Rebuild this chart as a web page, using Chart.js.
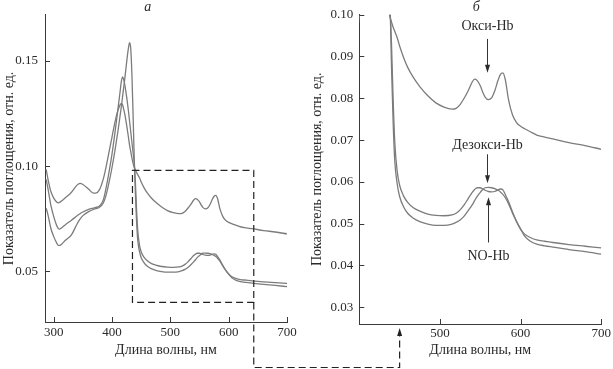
<!DOCTYPE html>
<html><head><meta charset="utf-8">
<script src="https://cdn.jsdelivr.net/npm/chart.js@4.4.1/dist/chart.umd.min.js"></script>
<style>
html,body{margin:0;padding:0;background:#fff;}
#wrap{position:relative;width:613px;height:369px;overflow:hidden;}
canvas{position:absolute;left:0;top:0;}
</style>
</head><body>
<div id="wrap"><canvas id="ca" width="613" height="369"></canvas><canvas id="cb" width="613" height="369"></canvas></div>
<script>
// ---- data ----
const wavelengths = [287,290,295,300,305,308,310,315,320,330,340,345,350,360,368,372,378,385,390,395,400,405,410,414,416,418,420,422,425,428,430,432,434,436,438,440,442,444,447,450,455,460,467,475,485,495,505,515,520,525,530,535,540,543,546,550,553,556,560,564,568,572,575,578,581,585,590,595,600,605,612,620,630,640,660,680,700];
const oxyHb = [0.0985,0.0940,0.0880,0.0848,0.0830,0.0826,0.0828,0.0838,0.0850,0.0875,0.0910,0.0918,0.0913,0.0890,0.0872,0.0872,0.0886,0.0940,0.1000,0.1070,0.1140,0.1210,0.1265,0.1293,0.1299,0.1292,0.1270,0.1245,0.1195,0.1140,0.1100,0.1070,0.1040,0.1015,0.0995,0.0982,0.0970,0.0960,0.0945,0.0925,0.0897,0.0874,0.0850,0.0828,0.0806,0.0789,0.0779,0.0774,0.0776,0.0785,0.0800,0.0818,0.0839,0.0846,0.0843,0.0830,0.0815,0.0803,0.0797,0.0801,0.0818,0.0843,0.0857,0.0861,0.0845,0.0797,0.0760,0.0742,0.0733,0.0727,0.0720,0.0712,0.0707,0.0703,0.0694,0.0687,0.0678];
const noHb = [0.0937,0.0895,0.0815,0.0760,0.0718,0.0703,0.0701,0.0710,0.0722,0.0742,0.0764,0.0774,0.0782,0.0795,0.0801,0.0804,0.0809,0.0840,0.0900,0.0975,0.1060,0.1160,0.1270,0.1360,0.1405,0.1425,0.1412,0.1385,0.1330,0.1265,0.1215,0.1165,0.1115,0.1065,0.1015,0.0925,0.0795,0.0695,0.0625,0.0592,0.0566,0.0551,0.0538,0.0530,0.0523,0.0520,0.0519,0.0521,0.0525,0.0533,0.0545,0.0560,0.0575,0.0582,0.0586,0.0586,0.0583,0.0580,0.0577,0.0576,0.0577,0.0581,0.0583,0.0581,0.0570,0.0553,0.0528,0.0505,0.0487,0.0475,0.0467,0.0461,0.0458,0.0455,0.0450,0.0446,0.0442];
const deoxyHb = [0.0800,0.0770,0.0705,0.0665,0.0635,0.0623,0.0623,0.0633,0.0648,0.0672,0.0725,0.0748,0.0765,0.0784,0.0794,0.0798,0.0804,0.0825,0.0865,0.0925,0.0995,0.1075,0.1165,0.1245,0.1285,0.1330,0.1375,0.1420,0.1495,0.1560,0.1587,0.1560,0.1440,0.1250,0.1040,0.0870,0.0740,0.0650,0.0595,0.0565,0.0540,0.0525,0.0513,0.0505,0.0499,0.0496,0.0496,0.0499,0.0503,0.0509,0.0518,0.0531,0.0545,0.0555,0.0565,0.0575,0.0582,0.0586,0.0587,0.0586,0.0584,0.0580,0.0576,0.0570,0.0562,0.0548,0.0525,0.0505,0.0487,0.0470,0.0458,0.0451,0.0447,0.0444,0.0438,0.0433,0.0427];

const xTicksA = [300,400,500,600,700];
const yTicksA = [0.05,0.10,0.15];
const xTicksB = [500,600,700];
const yTicksB = [0.03,0.04,0.05,0.06,0.07,0.08,0.09,0.10];
const xRangeA = [285,700], yRangeA = [0.0259,0.172];
const xRangeB = [400,700], yRangeB = [0.026,0.10];

const zoomBoxWl = [435,643];
const zoomBoxAbs = [0.0352,0.098];
const arrowTargetWl = 450;

const labels = [
  {text:'Окси-Hb', wl:558, abs:0.0971, arrowFrom:0.0942, arrowTo:0.0861},
  {text:'Дезокси-Hb', wl:558, abs:0.0688, arrowFrom:0.0666, arrowTo:0.0597},
  {text:'NO-Hb', wl:560, abs:0.0422, arrowFrom:0.0455, arrowTo:0.0563}
];
const panelLetters = {a:{text:'а', wl:461}, b:{text:'б', wl:545}};
const xTitle = 'Длина волны, нм';
const yTitle = 'Показатель поглощения, отн. ед.';

// ---- styles ----
const FONT = "'Liberation Serif', 'Times New Roman', serif";
const TXT = '#2a2a2a';
const AXIS = '#3a3a3a';
const LINE = '#7c7c7c';

function series(){
  return [oxyHb, noHb, deoxyHb].map(arr => ({
    data: wavelengths.map((w,i)=>({x:w, y:arr[i]})),
    borderColor: LINE, borderWidth: 1.3, pointRadius: 0, fill:false,
    cubicInterpolationMode:'monotone', clip: 0
  }));
}

function inwardTicks(chart){
  const ctx = chart.ctx, x = chart.scales.x, y = chart.scales.y;
  ctx.save(); ctx.strokeStyle = AXIS; ctx.lineWidth = 1;
  ctx.beginPath();
  x.ticks.forEach(t=>{const p=Math.round(x.getPixelForValue(t.value))+0.5; ctx.moveTo(p, x.top); ctx.lineTo(p, x.top-5);});
  y.ticks.forEach(t=>{const p=Math.round(y.getPixelForValue(t.value))+0.5; ctx.moveTo(y.right, p); ctx.lineTo(y.right+5, p);});
  ctx.stroke(); ctx.restore();
}
function letter(chart, l){
  const ctx = chart.ctx;
  ctx.save(); ctx.fillStyle = TXT; ctx.font = "italic 14px " + FONT;
  ctx.textAlign='center'; ctx.textBaseline='middle';
  ctx.fillText(l.text, chart.scales.x.getPixelForValue(l.wl), 7);
  ctx.restore();
}
function arrowHead(ctx, x, y, dir){ // dir 1 = pointing down, -1 = up
  ctx.beginPath(); ctx.moveTo(x, y); ctx.lineTo(x-2.5, y-8*dir); ctx.lineTo(x+2.5, y-8*dir); ctx.closePath(); ctx.fill();
}

function makeOpts(xr, yr, xt, yt, cfg){
  return {
    responsive:false, animation:false, devicePixelRatio:1,
    layout:{padding:cfg.padding},
    plugins:{legend:{display:false}, tooltip:{enabled:false}},
    scales:{
      x:{type:'linear', min:xr[0], max:xr[1],
        afterBuildTicks:s=>{s.ticks = xt.map(v=>({value:v}));},
        afterFit:s=>{s.height = cfg.xh;},
        grid:{display:false, drawTicks:false},
        border:{display:true, color:AXIS, width:1},
        ticks:{color:TXT, font:{family:FONT, size:13}, padding:cfg.xtp, maxRotation:0, autoSkip:false, callback:v=>String(v)},
        title:{display:true, text:xTitle, color:TXT, font:{family:FONT, size:14}, padding:{top:0,bottom:cfg.xtitlePad}}
      },
      y:{type:'linear', min:yr[0], max:yr[1],
        afterBuildTicks:s=>{s.ticks = yt.map(v=>({value:v}));},
        afterFit:s=>{s.width = cfg.yw;},
        grid:{display:false, drawTicks:false},
        border:{display:true, color:AXIS, width:1},
        ticks:{color:TXT, font:{family:FONT, size:13}, padding:cfg.ytp, autoSkip:false, callback:v=>v.toFixed(2)},
        title:{display:true, text:yTitle, color:TXT, font:{family:FONT, size:14}, padding:{top:cfg.ytitlePad,bottom:0}}
      }
    }
  };
}

const chartA = new Chart(document.getElementById('ca'), {
  type:'line',
  data:{datasets:series()},
  options:makeOpts(xRangeA, yRangeA, xTicksA, yTicksA, {padding:{left:0,top:12,right:326,bottom:0}, xh:47, yw:45, xtp:3, ytp:7, xtitlePad:10.5, ytitlePad:0.5}),
  plugins:[{id:'decoA', afterDraw(chart){
    inwardTicks(chart); letter(chart, panelLetters.a);
    const ctx = chart.ctx, x = chart.scales.x, y = chart.scales.y;
    const x0 = x.getPixelForValue(zoomBoxWl[0]), x1 = x.getPixelForValue(zoomBoxWl[1]);
    const y0 = y.getPixelForValue(zoomBoxAbs[1]), y1 = y.getPixelForValue(zoomBoxAbs[0]);
    ctx.save(); ctx.strokeStyle='#222'; ctx.lineWidth=1.2; ctx.setLineDash([7,4]);
    ctx.strokeRect(x0, y0, x1-x0, y1-y0);
    ctx.restore();
  }}]
});

const chartB = new Chart(document.getElementById('cb'), {
  type:'line',
  data:{datasets:series()},
  options:makeOpts(xRangeB, yRangeB, xTicksB, yTicksB, {padding:{left:309.3,top:14.7,right:10.3,bottom:0}, xh:45, yw:50, xtp:2, ytp:6, xtitlePad:10.5, ytitlePad:0}),
  plugins:[{id:'decoB', afterDraw(chart){
    inwardTicks(chart); letter(chart, panelLetters.b);
    const ctx = chart.ctx, x = chart.scales.x, y = chart.scales.y;
    ctx.save();
    ctx.fillStyle = TXT; ctx.strokeStyle = '#333'; ctx.lineWidth = 1;
    ctx.font = "14px " + FONT; ctx.textAlign='center'; ctx.textBaseline='middle';
    labels.forEach(l=>{
      const px = Math.round(x.getPixelForValue(l.wl))+0.5;
      ctx.fillText(l.text, px, y.getPixelForValue(l.abs));
      const a = y.getPixelForValue(l.arrowFrom), b = y.getPixelForValue(l.arrowTo);
      const dir = b > a ? 1 : -1;
      ctx.beginPath(); ctx.moveTo(px, a); ctx.lineTo(px, b - 6*dir); ctx.stroke();
      arrowHead(ctx, px, b, dir);
    });
    // connector from zoom box (panel a) to panel b axis
    const xa = chartA.scales.x, ya = chartA.scales.y;
    const sx = xa.getPixelForValue(zoomBoxWl[1]), sy = ya.getPixelForValue(zoomBoxAbs[0]);
    const tx = x.getPixelForValue(arrowTargetWl);
    const low = chart.height - 1.5, tipY = x.top + 4;
    ctx.strokeStyle='#222'; ctx.lineWidth=1.2; ctx.setLineDash([7,4]);
    ctx.beginPath(); ctx.moveTo(sx, sy); ctx.lineTo(sx, low); ctx.lineTo(tx, low); ctx.lineTo(tx, tipY+7); ctx.stroke();
    ctx.setLineDash([]); ctx.fillStyle='#222';
    arrowHead(ctx, tx, tipY, -1);
    ctx.restore();
  }}]
});
</script>
</body></html>
